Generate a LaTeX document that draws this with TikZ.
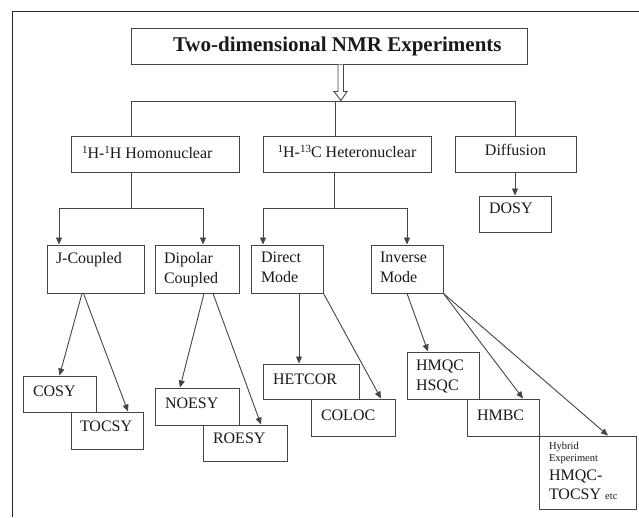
\documentclass[tikz,border=0pt]{standalone}
\usepackage{fontspec}
\setmainfont{Liberation Serif}
\usetikzlibrary{arrows.meta,calc}
\definecolor{linec}{HTML}{454545}
\definecolor{txtc}{HTML}{1A1A1A}
\newcommand{\btl}[5]{\parbox[c][#2pt][t]{#1pt}{\raggedright\leftskip=#3pt\relax\vspace*{#4pt}#5\par}}
\newcommand{\btc}[4]{\parbox[c][#2pt][t]{#1pt}{\centering\vspace*{#3pt}#4\par}}
\newcommand{\sups}[1]{\raisebox{5pt}{\fontsize{11}{11}\selectfont #1}}
\begin{document}
\begin{tikzpicture}[x=1pt,y=-1pt,
  every node/.style={font=\fontsize{16}{20}\selectfont},
  bx/.style={draw=linec,line width=1pt,fill=white,inner sep=0pt,text=txtc},
  conn/.style={draw=linec,line width=0.9pt},
  arr/.style={conn,-{Triangle[length=7pt,width=6pt]}}]
\useasboundingbox (0,0) rectangle (639,517);
\fill[white] (0,0) rectangle (639,517);
\draw[line width=1.6pt,draw=black!85] (12.5,517) -- (12.5,11.5) -- (639,11.5);

% boxes
\node[bx] (title) at (329,46) {\btl{396}{36}{42}{9}{\fontsize{21}{24}\selectfont\bfseries Two-dimensional NMR Experiments}};
\node[bx] (homo) at (155,154) {\btl{168}{36}{11}{10}{\sups{1}H-\sups{1}H Homonuclear}};
\node[bx] (hetero) at (347,154) {\btc{168}{36}{9}{\sups{1}H-\sups{13}C Heteronuclear}};
\node[bx] (diff) at (515.5,154) {\btc{121}{36}{8.5}{Diffusion}};
\node[bx] (dosy) at (515,214) {\btl{72}{36}{10}{6.5}{DOSY}};
\node[bx] (jc) at (95.5,269) {\btl{97}{48}{9}{7}{J-Coupled}};
\node[bx] (dip) at (197,269) {\btl{84}{48}{9}{7}{Dipolar\\Coupled}};
\node[bx] (dir) at (287,269) {\btl{72}{48}{10}{7}{Direct\\Mode}};
\node[bx] (inv) at (407,269) {\btl{72}{48}{9}{7}{Inverse\\Mode}};
\node[bx] (cosy) at (59.5,394) {\btl{73}{36}{10}{10}{COSY}};
\node[bx] (tocsy) at (107,430.5) {\btl{72}{37}{9}{9}{TOCSY}};
\node[bx] (noesy) at (197,406.5) {\btl{84}{37}{10}{10}{NOESY}};
\node[bx] (roesy) at (245,443) {\btl{84}{36}{10}{8}{ROESY}};
\node[bx] (hetcor) at (311,381.5) {\btl{96}{35}{10}{10}{HETCOR}};
\node[bx] (coloc) at (353,417.5) {\btl{84}{37}{10}{11}{COLOC}};
\node[bx] (hmqc) at (443,375.5) {\btl{72}{47}{9}{8}{HMQC\\HSQC}};
\node[bx] (hmbc) at (503,417.5) {\btl{72}{37}{10}{11}{HMBC}};
\node[bx] (hybrid) at (587.5,472.5) {\btl{97}{73}{10}{6.5}{{\fontsize{10.5}{12}\selectfont Hybrid\\Experiment\par}\fontsize{16}{19}\selectfont HMQC-\\TOCSY {\fontsize{10.5}{12}\selectfont etc}}};

% hollow arrow from title
\draw[conn,fill=white] ($(title.south)+(9,0)$) -- ++(0,27) -- ++(-4,0) -- ++(7,9) -- ++(6,-9) -- ++(-3.5,0) -- ($(title.south)+(14.5,0)$);

% bus
\coordinate (b1) at (131,101);
\coordinate (b2) at (335,101);
\coordinate (b3) at (515,101);
\draw[conn] (b1 |- homo.north) -- (b1) -- (b3) -- (b3 |- diff.north);
\draw[conn] (b2) -- (b2 |- hetero.north);

% homonuclear branch
\coordinate (h0) at (131,208);
\coordinate (hL) at (59,208);
\coordinate (hR) at (203,208);
\draw[conn] (h0 |- homo.south) -- (h0);
\draw[arr] (h0) -- (hL) -- (hL |- jc.north);
\draw[arr] (h0) -- (hR) -- (hR |- dip.north);

% heteronuclear branch
\coordinate (e0) at (334,208);
\coordinate (eL) at (263,208);
\coordinate (eR) at (407,208);
\draw[conn] (e0 |- hetero.south) -- (e0);
\draw[arr] (e0) -- (eL) -- (eL |- dir.north);
\draw[arr] (e0) -- (eR) -- (eR |- inv.north);

% diffusion
\draw[arr] (dosy.north |- diff.south) -- (dosy.north);

% leaves
\draw[arr] ([xshift=-13.5pt]jc.south) -- (cosy.north);
\draw[arr] ([xshift=-12pt]jc.south) -- ([xshift=21pt]tocsy.north);
\draw[arr] ([xshift=7pt]dip.south) -- ([xshift=-17pt]noesy.north);
\draw[arr] ([xshift=16pt]dip.south) -- ([xshift=16pt]roesy.north);
\draw[arr] ([xshift=12pt]dir.south) -- ([xshift=-12pt]hetcor.north);
\draw[arr] (dir.south east) -- ([xshift=28pt]coloc.north);
\draw[arr] (inv.south) -- ([xshift=-15pt]hmqc.north);
\draw[arr] (inv.south east) -- ([xshift=20pt]hmbc.north);
\draw[arr] (inv.south east) -- ([xshift=20.5pt]hybrid.north);
\end{tikzpicture}
\end{document}
